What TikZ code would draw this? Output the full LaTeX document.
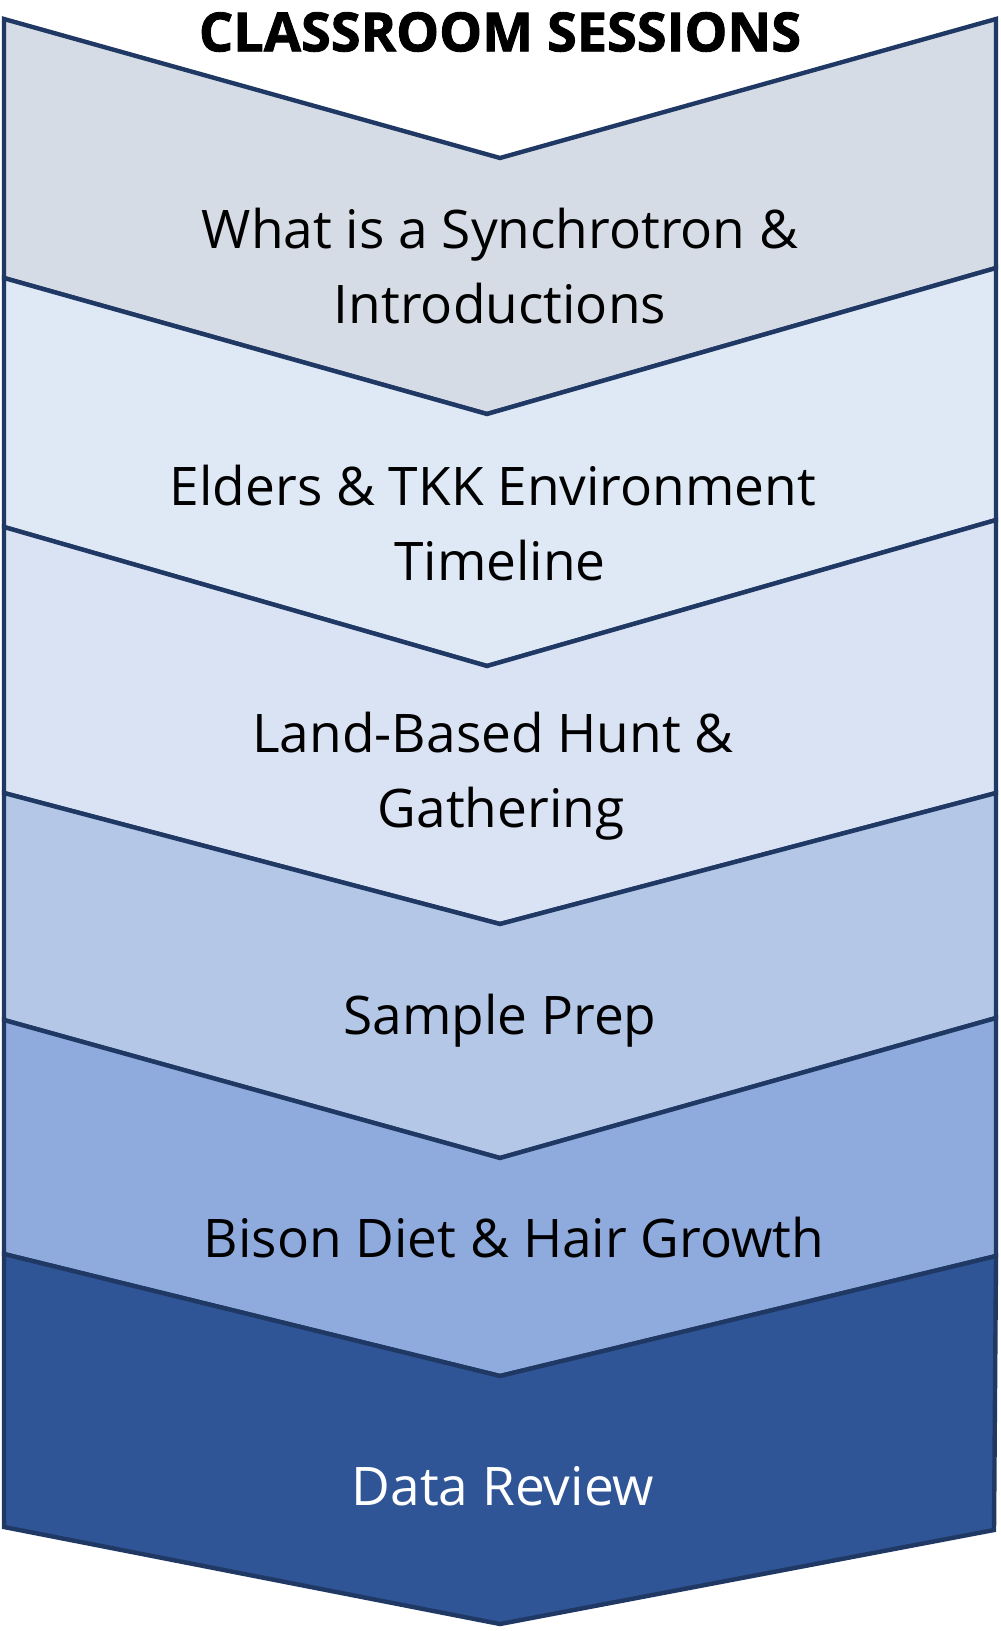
\documentclass[tikz,border=0pt]{standalone}
\usepackage{fontspec}
\setmainfont{Open Sans}
\newfontfamily\titlefont[BoldFeatures={FakeBold=1.6}]{Open Sans}
\usepackage{tikz}
\usetikzlibrary{positioning}
\usepackage{xcolor}
\definecolor{navy}{HTML}{203864}
\definecolor{bandA}{HTML}{D6DCE5}
\definecolor{bandB}{HTML}{DEE9F5}
\definecolor{bandC}{HTML}{DAE3F3}
\definecolor{bandD}{HTML}{B4C7E7}
\definecolor{bandE}{HTML}{8FAADC}
\definecolor{bandF}{HTML}{2F5597}

\begin{document}
\begin{tikzpicture}[x=0.5pt,y=-0.5pt,
  band/.style={draw=navy,line width=2.2pt,line join=miter},
  lbl/.style={font=\fontsize{26.6}{37.5}\selectfont,anchor=base}]
\useasboundingbox (0,0) rectangle (1000,1631);
% chevron boundaries
\coordinate (l0) at (4,19);    \coordinate (t0) at (500,158);  \coordinate (r0) at (996,19);
\coordinate (l1) at (4,278);   \coordinate (t1) at (487,414);  \coordinate (r1) at (996,268);
\coordinate (l2) at (4,527);   \coordinate (t2) at (487,666);  \coordinate (r2) at (996,520);
\coordinate (l3) at (4,793);   \coordinate (t3) at (500,924);  \coordinate (r3) at (996,793);
\coordinate (l4) at (4,1020);  \coordinate (t4) at (500,1158); \coordinate (r4) at (996,1018);
\coordinate (l5) at (4,1254);  \coordinate (t5) at (500,1376); \coordinate (r5) at (996,1256);
\coordinate (l6) at (4,1527);  \coordinate (t6) at (500,1624); \coordinate (r6) at (994,1530);
\foreach \i/\j/\c in {0/1/bandA,1/2/bandB,2/3/bandC,3/4/bandD,4/5/bandE,5/6/bandF}
  \filldraw[band,fill=\c] (l\i) -- (t\i) -- (r\i) -- (r\j) -- (t\j) -- (l\j) -- cycle;
% labels
\node[font=\fontsize{27}{32}\selectfont\titlefont\bfseries] (title) at (500,32) {CLASSROOM SESSIONS};
\node[lbl] (synchro) at (500,249) {What is a Synchrotron \&};
\node[lbl] (intro) at (500,324) {Introductions};
\node[lbl] (elders) at (493,505) {Elders \& TKK Environment};
\node[lbl] (timeline) at (500,580) {Timeline};
\node[lbl] (hunt) at (493,752) {Land-Based Hunt \&};
\node[lbl] (gather) at (501,827) {Gathering};
\node[lbl] (prep) at (500,1034) {Sample Prep};
\node[lbl] (bison) at (514,1257) {Bison Diet \& Hair Growth};
\node[lbl,text=white] (review) at (503,1505) {Data Review};
\end{tikzpicture}
\end{document}
